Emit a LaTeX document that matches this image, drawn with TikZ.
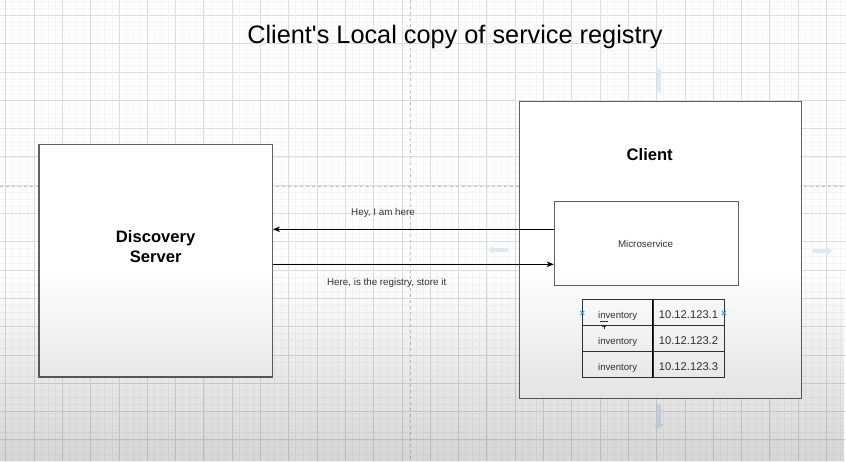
\documentclass[tikz,border=0pt]{standalone}
\usepackage{fontspec}
\setmainfont{Liberation Sans}
\usetikzlibrary{arrows.meta,fadings}
\tikzfading[name=dimdown, top color=transparent!100, bottom color=transparent!0]
\definecolor{gridminor}{HTML}{F5F5F5}
\definecolor{gridmajor}{HTML}{DDDDDD}
\definecolor{pagebreak}{HTML}{C4C4C4}
\definecolor{boxline}{HTML}{606060}
\definecolor{labelgray}{HTML}{333333}
\definecolor{hoverblue}{HTML}{DAEAF6}
\definecolor{markblue}{HTML}{3DAEE9}

\begin{document}
\begin{tikzpicture}[x=1pt,y=-1pt,
  minorline/.style={draw=gridminor, line width=0.6pt},
  majorline/.style={draw=gridmajor, line width=0.8pt},
  breakline/.style={draw=pagebreak, line width=1pt, dash pattern=on 3pt off 3pt},
  box/.style={draw=boxline, line width=1.2pt, fill=white, inner sep=0pt},
  cell/.style={draw=black!80, line width=0.9pt, fill=white, inner sep=0pt,
    minimum height=26pt, text height=11.6pt, text depth=0pt, text=labelgray},
  heading/.style={font=\bfseries\fontsize{16.6}{20}\selectfont, align=center},
  msg/.style={font=\fontsize{9.8}{12}\selectfont, text=labelgray, inner sep=0pt},
  flow/.style={draw=black, line width=1pt, -{Stealth[length=7pt,width=5.5pt,inset=2pt]}},
  hover/.style={draw=hoverblue, line width=3.5pt, -{Triangle[length=5pt,width=8pt]}},
  selmark/.style={draw=markblue, line width=1.1pt}]

\useasboundingbox (0,0) rectangle (846,461);
\fill[white] (0,0) rectangle (846,461);

% canvas grid
\foreach \i in {0,...,119} {
  \draw[minorline] ({5.7+7.075*\i},0) -- ({5.7+7.075*\i},461);
}
\foreach \i in {-2,...,63} {
  \draw[minorline] (0,{15.3+7.075*\i}) -- (846,{15.3+7.075*\i});
}
\foreach \i in {0,...,29} {
  \draw[majorline] ({5.7+28.3*\i},0) -- ({5.7+28.3*\i},461);
}
\foreach \i in {0,...,16} {
  \draw[majorline] (0,{15.3+28.3*\i}) -- (846,{15.3+28.3*\i});
}
% page breaks
\draw[breakline] (410,0) -- (410,461);
\draw[breakline] (0,186.7) -- (846,186.7);

% title
\node[anchor=base, font=\fontsize{25.3}{30}\selectfont, inner sep=0pt] (title) at (455,43.5)
  {Client\textquotesingle s Local copy of service registry};

% discovery server
\node[box, minimum width=233.3pt, minimum height=232.7pt] (ds) at (155.65,260.65) {};
\node[heading] (dslabel) at (155.65,247) {Discovery\\Server};

% client
\node[box, minimum width=282.4pt, minimum height=296.6pt] (cl) at (660.5,250) {};
\node[heading, anchor=base, inner sep=0pt] (cllabel) at (649.7,160.7) {Client};

% microservice
\node[box, line width=1pt, minimum width=184pt, minimum height=84.3pt] (ms) at (646.3,243.15) {};
\node[msg, anchor=base] (mslabel) at (645.5,247.3) {Microservice};

% registry table
\foreach \r/\y/\ip in {1/312.5/10.12.123.1, 2/338.5/10.12.123.2, 3/364.2/10.12.123.3} {
  \node[cell, minimum width=70.7pt, font=\fontsize{9.6}{12}\selectfont] (svc\r) at (617.65,\y) {inventory};
  \node[cell, minimum width=71pt, font=\fontsize{11.2}{13}\selectfont] (ip\r) at (688.5,\y) {\ip};
}
\draw[line width=1.2pt] (ip1.north west) -- (ip3.south west);

% messages
\coordinate (hey) at ([yshift=13.85pt]ms.west);
\coordinate (reg) at ([yshift=-21.15pt]ms.west);
\draw[flow] (hey) -- (hey -| ds.east);
\draw[flow] (reg -| ds.east) -- (reg);
\node[msg, anchor=base] (heylabel) at (383,215.3) {Hey, I am here};
\node[msg, anchor=base] (reglabel) at (386.7,285.3) {Here, is the registry, store it};

% selection marks
\draw[selmark] (580.3,311) -- (584.3,315) (580.3,315) -- (584.3,311);
\draw[selmark] (722,311) -- (726,315) (722,315) -- (726,311);
\draw[black!80, line width=0.8pt] (600,321.7) -- (608,321.7);
\draw[black!80, line width=0.6pt] (602.3,326.7) -- (606.3,326.7) (604.3,324.7) -- (604.3,328.7);

% hover arrows
\draw[hover] (659,92) -- (659,68);
\draw[hover] (508,250) -- (488,250);
\draw[hover] (812,251) -- (832,251);
\draw[hover] (659,405) -- (659,429);

% shading towards the bottom
\fill[black, fill opacity=0.16, path fading=dimdown] (0,270) rectangle (846,461);
\end{tikzpicture}
\end{document}
